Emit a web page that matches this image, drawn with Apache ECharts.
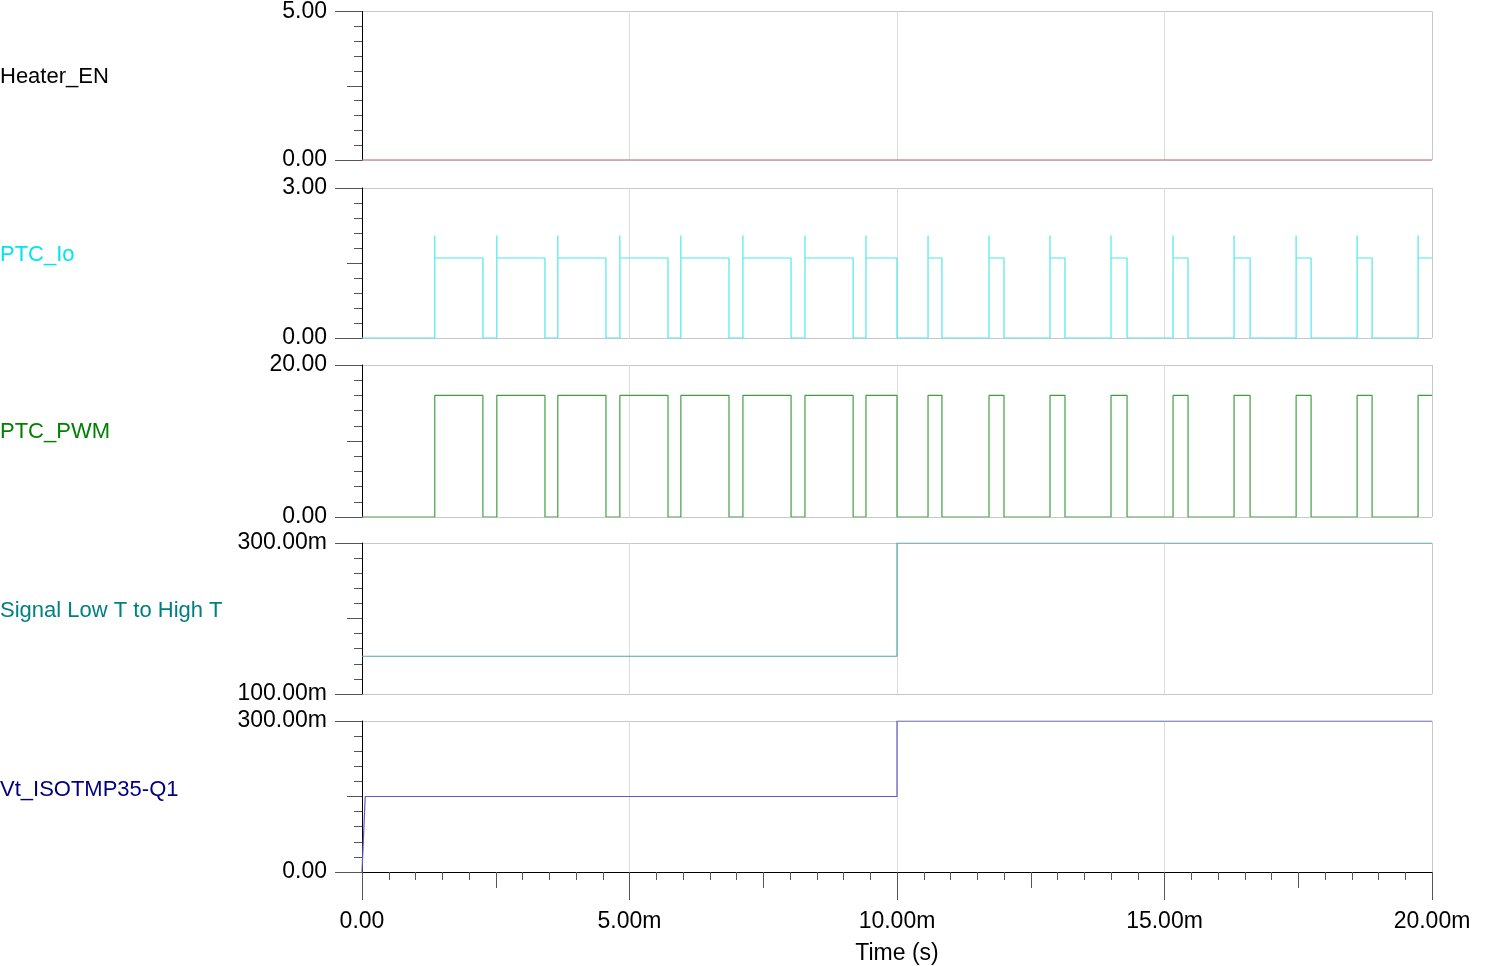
<!DOCTYPE html>
<html><head><meta charset="utf-8">
<script src="https://cdn.jsdelivr.net/npm/echarts@6/dist/echarts.min.js"></script>
<style>html,body{margin:0;background:#fff}#c{width:1496px;height:966px}</style>
</head><body><div id="c"></div>
<script>
// times in ms
const pwmEdges=[1.36,2.26,2.52,3.42,3.66,4.56,4.82,5.72,5.96,6.86,7.12,8.02,8.28,9.18,9.42,10.0,10.58,10.84,11.72,12.0,12.86,13.14,14.0,14.30,15.16,15.44,16.30,16.60,17.46,17.74,18.60,18.88,19.74];
const pwmHigh=16, ioHigh=1.6, ioSpike=2.05;
const heaterLevel=0;
const sigLevels=[0.15,0.30], sigStep=10.0;
const vtLevels=[0,0.15,0.30], vtRise=0.06, vtStep=10.0;
const names=['Heater_EN','PTC_Io','PTC_PWM','Signal Low T to High T','Vt_ISOTMP35-Q1'];
const nameColors=['#000000','#00e5ee','#008000','#008080','#000080'];
const lineColors=['#c06060','#50e8e8','#40a040','#50a8a8','#5a5ac8'];
const yMin=[0,0,0,0.1,0], yMax=[5,3,20,0.3,0.3];

const heater=[[0,heaterLevel],[20,heaterLevel]];
const pwm=[[0,0]], io=[[0,0]];
pwmEdges.forEach((t,i)=>{
  const rising=i%2===0;
  pwm.push([t,rising?0:pwmHigh],[t,rising?pwmHigh:0]);
  if(rising) io.push([t,0],[t,ioSpike],[t,ioHigh]); else io.push([t,ioHigh],[t,0]);
});
pwm.push([20,pwm[pwm.length-1][1]]); io.push([20,io[io.length-1][1]]);
const sig=[[0,sigLevels[0]],[sigStep,sigLevels[0]],[sigStep,sigLevels[1]],[20,sigLevels[1]]];
const vt=[[0,vtLevels[0]],[vtRise,vtLevels[1]],[vtStep,vtLevels[1]],[vtStep,vtLevels[2]],[20,vtLevels[2]]];
const datas=[heater,io,pwm,sig,vt];

const tops=[10,188,365,543,721], H=[150,150,152,151,151];
const labelY=[78,256,433,612,791];
const font='Liberation Sans, Arial, sans-serif';
const fmtY=(i,v)=>{ if(i>=3&&v!==0) return (v*1000).toFixed(2)+'m'; return v.toFixed(2); };

const grid=[],xAxis=[],yAxis=[],series=[],title=[];
for(let i=0;i<5;i++){
  grid.push({left:362,right:64,top:tops[i],height:H[i]});
  const last=i===4;
  xAxis.push({type:'value',gridIndex:i,position:'bottom',min:0,max:20,interval:5,
    axisLine:{show:last,onZero:false,lineStyle:{color:'#000'}},
    axisTick:{show:last,inside:false,length:28,lineStyle:{color:'#555'}},
    axisLabel:{show:last,margin:38,fontSize:23,color:'#000',fontFamily:font,formatter:v=>v===0?'0.00':v.toFixed(2)+'m'},
    splitLine:{show:true,lineStyle:{color:'#dcdcdc'}},
    name:last?'Time (s)':'',nameLocation:'middle',nameGap:70,nameTextStyle:{fontSize:23,color:'#000',fontFamily:font}});
  if(last) xAxis.push({type:'value',gridIndex:i,position:'bottom',min:0,max:20,interval:2.5,
    axisLine:{show:false,onZero:false},axisTick:{inside:false,length:16,lineStyle:{color:'#555'}},
    minorTick:{show:true,splitNumber:5,length:8,lineStyle:{color:'#555'}},
    axisLabel:{show:false},splitLine:{show:false}});
  const r=yMax[i]-yMin[i];
  yAxis.push({type:'value',gridIndex:i,position:'left',min:yMin[i],max:yMax[i],interval:r,
    axisLine:{show:true,onZero:false,lineStyle:{color:'#000'}},
    axisTick:{show:true,inside:false,length:27,lineStyle:{color:'#555'}},
    axisLabel:{margin:35,fontSize:23,color:'#000',fontFamily:font,formatter:v=>fmtY(i,v)},
    splitLine:{show:true,lineStyle:{color:'#c8c8c8'}}});
  yAxis.push({type:'value',gridIndex:i,position:'left',min:yMin[i],max:yMax[i],interval:r/2,
    axisLine:{show:false,onZero:false},axisTick:{inside:false,length:15,lineStyle:{color:'#555'}},
    minorTick:{show:true,splitNumber:5,length:8,lineStyle:{color:'#555'}},
    axisLabel:{show:false},splitLine:{show:false}});
  series.push({type:'line',xAxisIndex:last?4:i,yAxisIndex:2*i,data:datas[i],showSymbol:false,
    lineStyle:{width:1.2,color:lineColors[i]},animation:false,
    markLine:{silent:true,symbol:'none',label:{show:false},lineStyle:{color:'#c8c8c8',type:'solid',width:1},data:[{xAxis:20}],animation:false}});
  title.push({text:names[i],left:0,top:labelY[i]-12,padding:0,
    textStyle:{fontSize:22,fontWeight:'normal',color:nameColors[i],fontFamily:font}});
}

const chart=echarts.init(document.getElementById('c'));
chart.setOption({animation:false,title,grid,xAxis,yAxis,series});
</script></body></html>
